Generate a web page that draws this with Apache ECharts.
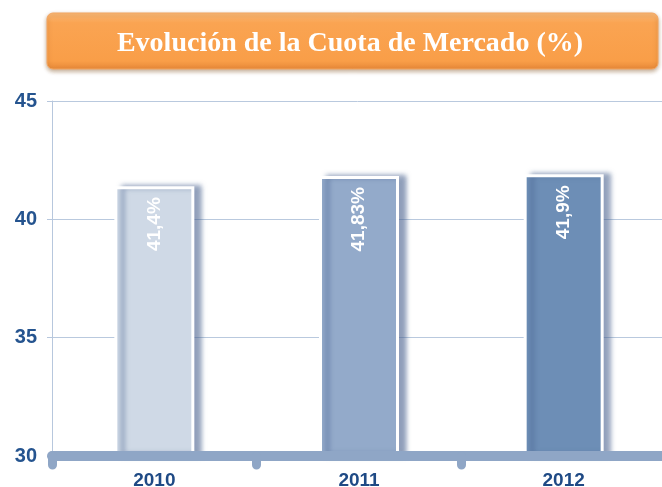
<!DOCTYPE html>
<html>
<head>
<meta charset="utf-8">
<script src="https://cdn.jsdelivr.net/npm/echarts@6/dist/echarts.min.js"></script>
<style>
    html, body { margin: 0; padding: 0; background: #fff; }
    #chart { width: 662px; height: 487px; }
</style>
</head>
<body>
<div id="chart"></div>
<script>
// datos del gráfico
const years = ['2010', '2011', '2012'];
const cuota = [41.4, 41.83, 41.9];
const cuotaLabels = ['41,4%', '41,83%', '41,9%'];
const barColors = ['#CFD9E6', '#93AACA', '#6D8EB6'];
const yTicks = [30, 35, 40, 45];

const chart = echarts.init(document.getElementById('chart'));

const option = {
    animation: false,
    grid: { left: 52, right: -4, top: 101, bottom: 31, outerBoundsMode: 'none' },
    graphic: [
        {
            type: 'rect',
            shape: { x: 47, y: 13, width: 611, height: 56, r: 6 },
            style: {
                fill: new echarts.graphic.LinearGradient(0, 0, 0, 1, [
                    { offset: 0, color: '#FCBC7C' },
                    { offset: 0.18, color: '#FAA452' },
                    { offset: 0.85, color: '#F99E48' },
                    { offset: 1, color: '#E68838' }
                ]),
                stroke: '#F3A560',
                lineWidth: 1,
                shadowBlur: 4,
                shadowOffsetY: 2,
                shadowColor: 'rgba(120,70,20,0.45)'
            }
        },
        {
            type: 'text',
            x: 350,
            y: 44,
            style: {
                text: 'Evolución de la Cuota de Mercado (%)',
                fill: '#fff',
                font: 'bold 28px "Liberation Serif", "DejaVu Serif", serif',
                textAlign: 'center',
                textVerticalAlign: 'middle'
            }
        }
    ],
    xAxis: {
        type: 'category',
        data: years,
        z: 5,
        axisLine: {
            lineStyle: { color: '#8FA6C6', width: 10, cap: 'round' }
        },
        axisTick: {
            show: true,
            length: 9,
            lineStyle: { color: '#8FA6C6', width: 9, cap: 'round' }
        },
        axisLabel: {
            color: '#1F4A85',
            fontSize: 19,
            fontWeight: 'bold',
            fontFamily: 'Liberation Sans, Arial, sans-serif',
            margin: 15
        }
    },
    yAxis: {
        type: 'value',
        min: yTicks[0],
        max: yTicks[yTicks.length - 1],
        interval: 5,
        axisLine: { show: true, lineStyle: { color: '#B7C7DD', width: 1 } },
        axisTick: { show: true, length: 5, lineStyle: { color: '#B7C7DD' } },
        splitLine: { lineStyle: { color: '#B9C9DE', width: 1 } },
        axisLabel: {
            color: '#25548F',
            fontSize: 20,
            fontWeight: 'bold',
            fontFamily: 'Liberation Sans, Arial, sans-serif',
            margin: 15
        }
    },
    series: [{
        type: 'bar',
        barWidth: 80,
        z: 2,
        data: cuota.map((v, i) => ({
            value: v,
            itemStyle: { color: barColors[i] }
        })),
        itemStyle: {
            borderColor: '#fff',
            borderWidth: 3,
            shadowColor: 'rgba(70,95,140,0.6)',
            shadowBlur: 5,
            shadowOffsetX: 7,
            shadowOffsetY: -1
        },
        label: {
            show: true,
            position: 'insideTop',
            distance: 11,
            rotate: 90,
            align: 'right',
            verticalAlign: 'middle',
            color: '#fff',
            fontSize: 19,
            fontWeight: 'bold',
            fontFamily: 'Liberation Sans, Arial, sans-serif',
            formatter: p => cuotaLabels[p.dataIndex]
        }
    }]
};

chart.setOption(option);
</script>
</body>
</html>
